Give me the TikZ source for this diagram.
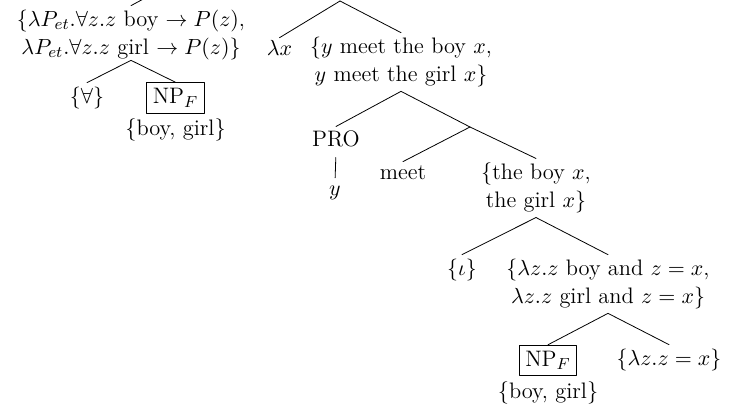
\documentclass[tikz,border=0pt]{standalone}
\usetikzlibrary{positioning}

\begin{document}
\begin{tikzpicture}[line cap=round, line join=round, x=0.5pt, y=-0.5pt,
  font=\fontsize{11.2}{14}\selectfont,
  lbl/.style={inner sep=2pt},
  lbls/.style={align=center, inner sep=2pt},
  focus/.style={draw, inner sep=3pt}]
  % Window (the root sits above the page and is cut off)
  \useasboundingbox (0,0) rectangle (733,406);

  % Hidden upper nodes
  \coordinate (root) at (234,-50);
  \coordinate (abstr) at (340,1);
  \coordinate (vp) at (470,127);

  % Quantifier part
  \node[lbls] (quant) at (131,35) {$\{\lambda P_{et}.\forall z.z$ boy $\to P(z)$,\\ $\lambda P_{et}.\forall z.z$ girl $\to P(z)\}$};
  \node[lbl] (forall) at (87,98) {$\{\forall\}$};
  \node[focus] (npA) at (175.5,98) {NP$_F$};
  \node[lbl, below=0.5pt of npA] (setA) {\{boy, girl\}};

  % Abstraction part
  \node[lbl, text height=1.6ex] (lamx) at (279.5,49) {$\lambda x$};
  \node[lbls] (meetyx) at (401,62) {$\{y$ meet the boy $x$,\\ $y$ meet the girl $x\}$};
  \node[lbl] (pro) at (336,139) {PRO};
  \node[lbl] (yvar) at (335,193) {$y$};
  \node[lbl] (meet) at (403,173) {meet};
  \node[lbls] (theboy) at (536,188) {\{the boy $x$,\\ the girl $x\}$};

  % Definite description
  \node[lbl] (iota) at (462,270) {$\{\iota\}$};
  \node[lbls] (lamz) at (608,284) {$\{\lambda z.z$ boy and $z=x$,\\ $\lambda z.z$ girl and $z=x\}$};
  \node[focus] (npB) at (548,360.5) {NP$_F$};
  \node[lbl, below=0.5pt of npB] (setB) {\{boy, girl\}};
  \node[lbl] (eqz) at (669,360) {$\{\lambda z.z=x\}$};

  % Branches
  \draw (root) -- (quant.north);
  \draw (abstr) -- (lamx.north);
  \draw (abstr) -- (meetyx.north);
  \draw ([yshift=2pt]quant.south) -- (forall.north);
  \draw ([yshift=2pt]quant.south) -- (npA.north);
  \draw (meetyx.south) -- (pro.north);
  \draw (meetyx.south) -- (vp);
  \draw[shorten <=3pt, shorten >=2pt] (pro.south) -- (yvar.north);
  \draw (vp) -- (meet.north);
  \draw (vp) -- (theboy.north);
  \draw (theboy.south) -- (iota.north);
  \draw (theboy.south) -- (lamz.north);
  \draw (lamz.south) -- (npB.north);
  \draw (lamz.south) -- (eqz.north);
\end{tikzpicture}
\end{document}
